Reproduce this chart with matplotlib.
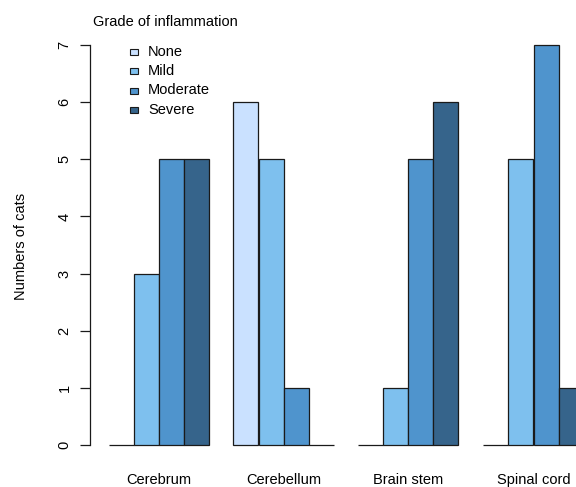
import matplotlib
matplotlib.use("Agg")
import matplotlib.pyplot as plt
from matplotlib.patches import Rectangle

plt.rcParams['font.family'] = ['Liberation Sans', 'DejaVu Sans']

regions = ["Cerebrum", "Cerebellum", "Brain stem", "Spinal cord"]
grades = ["None", "Mild", "Moderate", "Severe"]
none_vals = [0, 6, 0, 0]
mild_vals = [3, 5, 1, 5]
moderate_vals = [5, 1, 5, 7]
severe_vals = [5, 0, 6, 1]
series = [none_vals, mild_vals, moderate_vals, severe_vals]
colors = ["#CAE1FF", "#7EC0EE", "#4F94CD", "#36648B"]
yticks = [0, 1, 2, 3, 4, 5, 6, 7]

W, H = 576, 487
fig = plt.figure(figsize=(W / 100, H / 100), dpi=100)

def fx(px):
    return px / W

def fy(py):
    return (H - py) / H

# axes placement (R-like barplot region)
x0px, unit_x = 83.5, 25.0
y0px, unit_y = 445.0, 57.14
xlim = (0.24, 20.76)
ylim = (-0.28, 7.28)
left = x0px + unit_x * xlim[0]
right = x0px + unit_x * xlim[1]
bottom = y0px - unit_y * ylim[0]
top = y0px - unit_y * ylim[1]
ax = fig.add_axes([fx(left), fy(bottom), (right - left) / W, (bottom - top) / H])
ax.set_xlim(*xlim)
ax.set_ylim(*ylim)

n_groups = len(regions)
n_bars = len(grades)
for j, (vals, col) in enumerate(zip(series, colors)):
    xs = [1 + (n_bars + 1) * g + j for g in range(n_groups)]
    ax.bar(xs, vals, width=1.0, align='edge', color=col,
           edgecolor='#1a1a1a', linewidth=0.9, clip_on=False)

for s in ['top', 'right', 'bottom']:
    ax.spines[s].set_visible(False)
ax.spines['left'].set_bounds(0, 7)
ax.spines['left'].set_linewidth(0.9)
ax.spines['left'].set_color('#1a1a1a')

ax.set_yticks(yticks)
ax.set_yticklabels([str(t) for t in yticks], rotation=90, va='center', fontsize=10.5)
ax.tick_params(axis='y', length=7, width=0.9, color='#1a1a1a', pad=6)

centers = [1 + (n_bars + 1) * g + n_bars / 2 for g in range(n_groups)]
ax.set_xticks(centers)
ax.set_xticklabels(regions, fontsize=10.5)
ax.tick_params(axis='x', length=0, pad=8.5)

fig.text(fx(20.7), fy(246), "Numbers of cats", rotation=90, ha='center', va='center', fontsize=10.5)

# legend (R style, no box)
fig.text(fx(165.5), fy(22), "Grade of inflammation", ha='center', va='center', fontsize=10.5)
row_y = [52, 71, 90.5, 110]
for lab, col, yy in zip(grades, colors, row_y):
    fig.patches.append(Rectangle((fx(130), fy(yy + 3)), 8 / W, 6 / H, transform=fig.transFigure,
                                 facecolor=col, edgecolor='#1a1a1a', linewidth=0.8))
    fig.text(fx(148), fy(yy), lab, ha='left', va='center', fontsize=10.5)

fig.savefig("out.png", dpi=100)
